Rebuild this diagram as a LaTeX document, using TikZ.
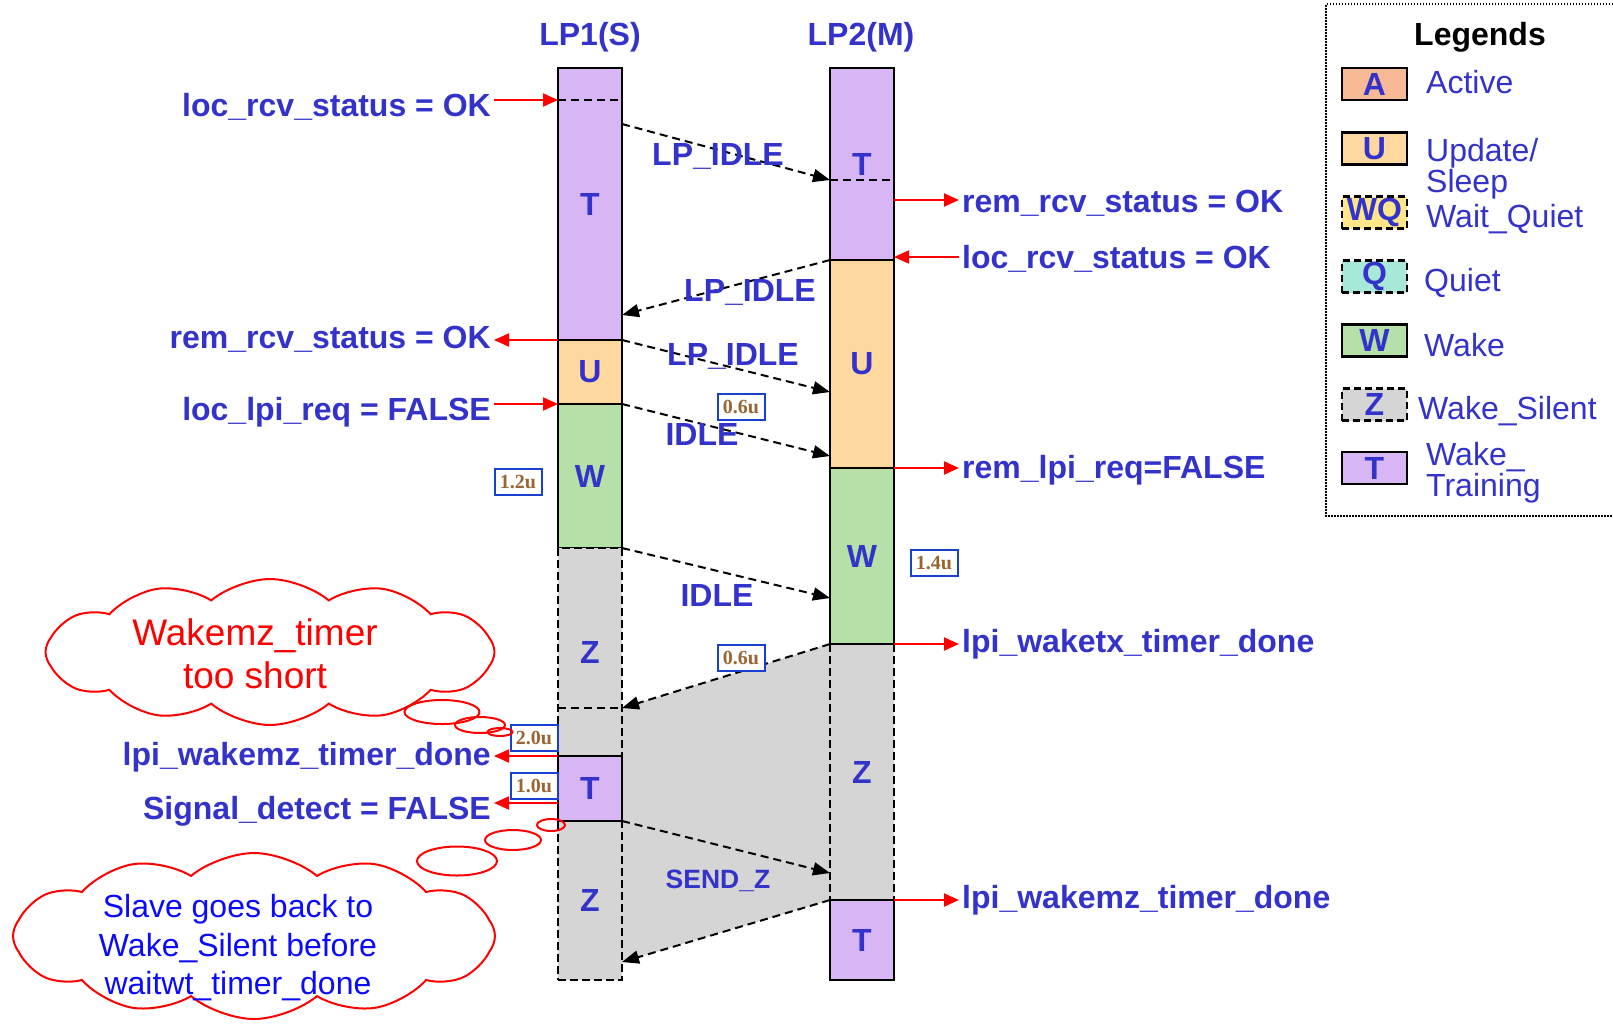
\documentclass[tikz,border=0pt]{standalone}
\usepackage{fontspec}
\setmainfont{Liberation Sans}
\newfontfamily\timesfont{Liberation Serif}
\usetikzlibrary{arrows.meta,positioning,calc,backgrounds,shapes.symbols,shapes.geometric}
\newcommand{\lblfont}{\bfseries\fontsize{32}{36}\selectfont}
\newcommand{\keyfont}{\fontsize{32}{26}\selectfont}
\definecolor{lpBlue}{HTML}{3333CC}
\definecolor{lpRed}{HTML}{FF0000}
\definecolor{noteBlue}{HTML}{0A0AFF}
\definecolor{timeBrown}{HTML}{996633}
\definecolor{timeEdge}{HTML}{1A40D0}
\definecolor{fillT}{HTML}{D8B6F6}
\definecolor{fillU}{HTML}{FFD8A0}
\definecolor{fillW}{HTML}{B5E0A8}
\definecolor{fillZ}{HTML}{D5D5D5}
\definecolor{fillA}{HTML}{F8BA94}
\definecolor{fillWQ}{HTML}{FFE68A}
\definecolor{fillQ}{HTML}{A8E8D8}

\tikzset{
  seg/.style={draw=black,line width=2.5pt,minimum width=64pt,inner sep=0pt,outer sep=0pt,
    anchor=north west,font=\lblfont,text=lpBlue},
  segdash/.style={seg,dash pattern=on 8pt off 4pt},
  split/.style={draw=black,line width=2pt,dash pattern=on 8pt off 5pt},
  msg/.style={draw=black,line width=2pt,dash pattern=on 8pt off 5pt,-{Triangle[length=17pt,width=13pt]}},
  sig/.style={draw=lpRed,line width=2pt,-{Triangle[length=15pt,width=13pt]}},
  msglbl/.style={font=\lblfont,text=lpBlue,anchor=base,inner sep=0pt},
  siglbl/.style={font=\lblfont,text=lpBlue,inner sep=3pt},
  tbox/.style={draw=timeEdge,line width=2pt,fill=white,minimum width=47pt,minimum height=26pt,inner sep=0pt,
    font=\timesfont\bfseries\fontsize{20}{22}\selectfont,text=timeBrown},
  cloudnote/.style={cloud,cloud puffs=12,cloud puff arc=80,cloud ignores aspect,draw=lpRed,
    line width=2pt,fill=white,inner sep=0pt},
  bubble/.style={ellipse,draw=lpRed,line width=2pt,inner sep=0pt},
  swatch/.style={draw=black,line width=2.5pt,minimum width=65pt,minimum height=32pt,inner sep=0pt,
    font=\lblfont,text=lpBlue},
  swatchdash/.style={swatch,dash pattern=on 7pt off 4pt},
  keylbl/.style={font=\keyfont,text=lpBlue,anchor=base west,inner sep=0pt,align=left},
}

\begin{document}
\begin{tikzpicture}[x=1pt,y=-1pt]
\useasboundingbox (0,0) rectangle (1613,1029);

% column headers
\node[msglbl] (hdrS) at (590,45) {LP1(S)};
\node[msglbl] (hdrM) at (861,45) {LP2(M)};

% LP1 (slave) states
\node[seg,fill=fillT,minimum height=272pt] (s1T) at (558,68) {T};
\node[seg,fill=fillU,minimum height=64pt] (s1U) at (558,340) {U};
\node[seg,fill=fillW,minimum height=144pt] (s1W) at (558,404) {W};
\node[segdash,fill=fillZ,minimum height=208pt] (s1Za) at (558,548) {Z};
\node[segdash,fill=fillZ,minimum height=159pt] (s1Zb) at (558,821) {Z};
\node[seg,fill=fillT,minimum height=65pt] (s1Tb) at (558,756) {T};

% LP2 (master) states
\node[segdash,fill=fillZ,minimum height=256pt] (m2Z) at (830,644) {Z};
\node[seg,fill=fillT,minimum height=192pt] (m2T) at (830,68) {T};
\node[seg,fill=fillU,minimum height=208pt] (m2U) at (830,260) {U};
\node[seg,fill=fillW,minimum height=176pt] (m2W) at (830,468) {W};
\node[seg,fill=fillT,minimum height=80pt] (m2Tb) at (830,900) {T};

\draw[split] ($(s1T.north west)+(0,32)$) -- ($(s1T.north east)+(0,32)$);
\draw[split] ($(m2T.north west)+(0,112)$) -- ($(m2T.north east)+(0,112)$);
\draw[split] ($(s1Za.north west)+(0,160)$) -- ($(s1Za.north east)+(0,160)$);

% shared wake silent area
\begin{scope}[on background layer]
  \fill[white] (0,0) rectangle (1613,1029);
  \fill[fillZ] ($(s1Za.north east)+(0,160)$) -- (m2Z.north west) -- (m2Tb.north west)
    -- ($(s1Zb.north east)+(0,141)$) -- cycle;
\end{scope}

% messages
\draw[msg] ($(s1T.north east)+(0,56)$) -- ($(m2T.north west)+(0,112)$);
\draw[msg] (m2U.north west) -- ($(s1T.north east)+(0,247)$);
\draw[msg] (s1U.north east) -- ($(m2U.north west)+(0,132)$);
\draw[msg] (s1W.north east) -- ($(m2U.north west)+(0,196)$);
\draw[msg] (s1Za.north east) -- ($(m2W.north west)+(0,130)$);
\draw[msg] (m2Z.north west) -- ($(s1Za.north east)+(0,160)$);
\draw[msg] (s1Tb.south east) -- ($(m2Z.north west)+(0,229)$);
\draw[msg] (m2Tb.north west) -- ($(s1Zb.north east)+(0,141)$);

\node[msglbl] (idleA) at (718,165) {LP\_IDLE};
\node[msglbl] (idleB) at (750,301) {LP\_IDLE};
\node[msglbl] (idleC) at (733,365) {LP\_IDLE};
\node[msglbl] (idleD) at (702,445) {IDLE};
\node[msglbl] (idleE) at (717,606) {IDLE};
\node[msglbl,font=\bfseries\fontsize{26.5}{30}\selectfont] (sendZ) at (718,888) {SEND\_Z};

% signals at LP1
\coordinate (inL1) at ($(s1T.north west)+(0,32)$);
\coordinate (outL2) at (s1U.north west);
\coordinate (inL3) at (s1W.north west);
\coordinate (outL4) at (s1Tb.north west);
\coordinate (outL5) at ($(s1Tb.north west)+(0,47)$);
\node[siglbl,anchor=base east] (locRcvS) at (494,116) {loc\_rcv\_status = OK};
\node[siglbl,anchor=base east] (remRcvS) at (494,348) {rem\_rcv\_status = OK};
\node[siglbl,anchor=base east] (locLpiS) at (494,420) {loc\_lpi\_req = FALSE};
\node[siglbl,anchor=base east] (wakemzS) at (494,765) {lpi\_wakemz\_timer\_done};
\node[siglbl,anchor=base east] (sigDetS) at (494,819) {Signal\_detect = FALSE};
\draw[sig] (locRcvS.east |- inL1) -- (inL1);
\draw[sig] (outL2) -- (remRcvS.east |- outL2);
\draw[sig] (locLpiS.east |- inL3) -- (inL3);
\draw[sig] (outL4) -- (wakemzS.east |- outL4);
\draw[sig] (outL5) -- (sigDetS.east |- outL5);

% signals at LP2
\coordinate (outR1) at ($(m2T.north east)+(0,132)$);
\coordinate (inR2) at ($(m2U.north east)+(0,-3)$);
\coordinate (outR3) at (m2W.north east);
\coordinate (outR4) at (m2Z.north east);
\coordinate (outR5) at (m2Tb.north east);
\node[siglbl,anchor=base west] (remRcvM) at (959,212) {rem\_rcv\_status = OK};
\node[siglbl,anchor=base west] (locRcvM) at (959,268) {loc\_rcv\_status = OK};
\node[siglbl,anchor=base west] (remLpiM) at (959,478) {rem\_lpi\_req=FALSE};
\node[siglbl,anchor=base west] (waketxM) at (959,652) {lpi\_waketx\_timer\_done};
\node[siglbl,anchor=base west] (wakemzM) at (959,908) {lpi\_wakemz\_timer\_done};
\draw[sig] (outR1) -- (remRcvM.west |- outR1);
\draw[sig] (locRcvM.west |- inR2) -- (inR2);
\draw[sig] (outR3) -- (remLpiM.west |- outR3);
\draw[sig] (outR4) -- (waketxM.west |- outR4);
\draw[sig] (outR5) -- (wakemzM.west |- outR5);

% timings
\node[tbox] (tmA) at (741,407) {0.6u};
\node[tbox] (tmB) at (518,482) {1.2u};
\node[tbox] (tmC) at (934,563) {1.4u};
\node[tbox] (tmD) at (741,658) {0.6u};
\node[tbox] (tmE) at (534,738) {2.0u};
\node[tbox] (tmF) at (534,786) {1.0u};

% notes
\node[cloudnote,minimum width=449pt,minimum height=146pt] (cloudShort) at (270,652) {};
\node[font=\fontsize{37}{43}\selectfont,text=lpRed,align=center] (noteShort) at (255,654)
  {Wakemz\_timer\\too short};
\node[bubble,minimum width=75pt,minimum height=24pt] (bubA1) at (442,712) {};
\node[bubble,minimum width=50pt,minimum height=16pt] (bubA2) at (480,725) {};
\node[bubble,minimum width=25pt,minimum height=8pt] (bubA3) at (500,732) {};

\node[cloudnote,minimum width=482pt,minimum height=166pt] (cloudBack) at (254,936) {};
\node[font=\fontsize{32}{38.5}\selectfont,text=noteBlue,align=center] (noteBack) at (238,948)
  {Slave goes back to\\Wake\_Silent before\\waitwt\_timer\_done};
\node[bubble,minimum width=80pt,minimum height=29pt] (bubB1) at (457,861) {};
\node[bubble,minimum width=56pt,minimum height=20pt] (bubB2) at (513,840) {};
\node[bubble,minimum width=28pt,minimum height=12pt] (bubB3) at (551,825) {};

% legend
\draw[line width=1.5pt,dash pattern=on 1.5pt off 1.5pt] (1613,4) -- (1326,4) -- (1326,516) -- (1613,516);
\node[font=\lblfont,anchor=base,inner sep=0pt] (keyTitle) at (1480,45) {Legends};
\node[swatch,fill=fillA] (keyA) at (1374.5,84) {A};
\node[keylbl] (keyAtxt) at (1426,93) {Active};
\node[swatch,fill=fillU] (keyU) at (1374.5,148.5) {U};
\node[keylbl] (keyUtxt) at (1426,192) {Update/\\Sleep};
\node[swatchdash,fill=fillWQ] (keyWQ) at (1374.5,212.5) {WQ};
\node[keylbl] (keyWQtxt) at (1426,227) {Wait\_Quiet};
\node[swatchdash,fill=fillQ] (keyQ) at (1374.5,276.5) {Q};
\node[keylbl] (keyQtxt) at (1424,291) {Quiet};
\node[swatch,fill=fillW] (keyW) at (1374.5,340.5) {W};
\node[keylbl] (keyWtxt) at (1424,356) {Wake};
\node[swatchdash,fill=fillZ] (keyZ) at (1374.5,404.5) {Z};
\node[keylbl] (keyZtxt) at (1418,419) {Wake\_Silent};
\node[swatch,fill=fillT] (keyT) at (1374.5,468) {T};
\node[keylbl] (keyTtxt) at (1426,496) {Wake\_\\Training};
\end{tikzpicture}
\end{document}
